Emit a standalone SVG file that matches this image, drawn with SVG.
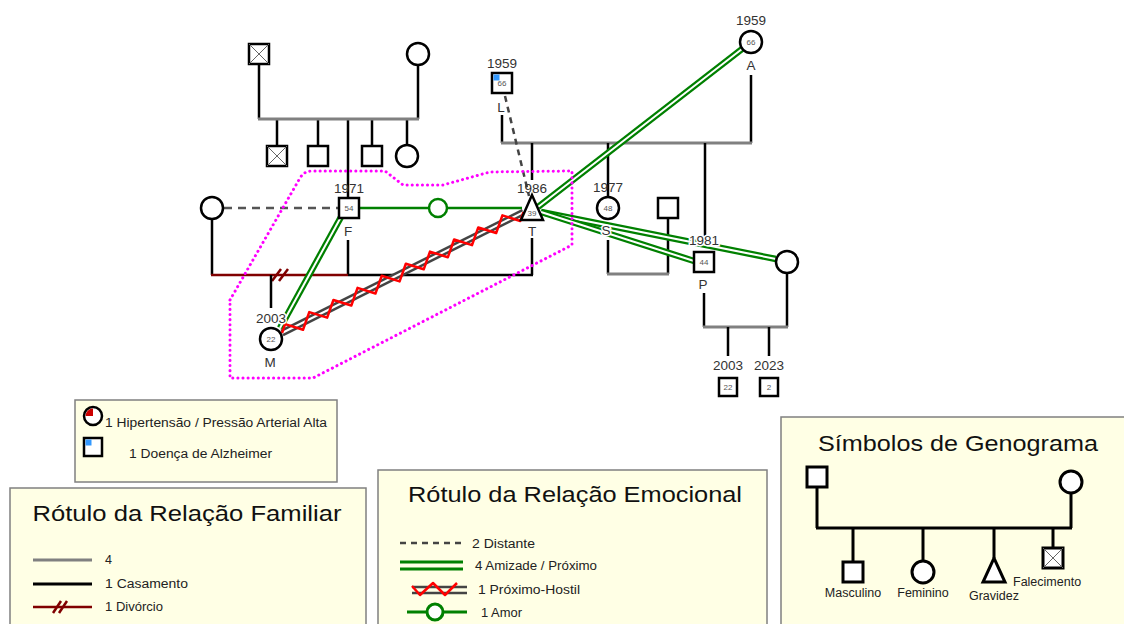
<svg xmlns="http://www.w3.org/2000/svg" width="1124" height="624" viewBox="0 0 1124 624">
<defs>
<style>
.n{fill:#fff;stroke:#000;stroke-width:2.5}
.fl{stroke:#000;stroke-width:2.5;fill:none}
.gl{stroke:#808080;stroke-width:3;fill:none}
.dv{stroke:#800000;stroke-width:2.5;fill:none}
.x{stroke:#666;stroke-width:1}
.t{font-family:"Liberation Sans",Arial,sans-serif;font-size:13.5px;fill:#333;text-anchor:middle}
.s{font-family:"Liberation Sans",Arial,sans-serif;font-size:8px;fill:#555;text-anchor:middle}
.lg{font-family:"Liberation Sans",Arial,sans-serif;font-size:12.5px;fill:#222}
.ttl{font-family:"Liberation Sans",Arial,sans-serif;font-size:22px;fill:#111;text-anchor:middle}
.box{fill:#FFFFE5;stroke:#808080;stroke-width:1.5}
.g2{stroke:#008000;stroke-width:6.5;fill:none}
.gap{stroke:#fff;stroke-width:2;fill:none}
.h2{stroke:#444;stroke-width:7;fill:none}
.zz{stroke:#ff0000;stroke-width:2.5;fill:none;stroke-linejoin:round}
.ds{stroke:#444;stroke-width:2.5;stroke-dasharray:6 5;fill:none}
.lv{stroke:#008000;stroke-width:2.5;fill:none}
.pk{stroke:#ff00ff;stroke-width:3;stroke-dasharray:0.1 5;stroke-linecap:round;fill:none}
.halo{stroke:#fff;stroke-width:3;paint-order:stroke}
</style>
</defs>
<rect width="1124" height="624" fill="#fff"/>

<!-- family connectors -->
<g id="family-lines">
  <line class="fl" x1="259" y1="64" x2="259" y2="119"/>
  <line class="fl" x1="418" y1="65" x2="418" y2="119"/>
  <line class="fl" x1="277" y1="119" x2="277" y2="146"/>
  <line class="fl" x1="318" y1="119" x2="318" y2="146"/>
  <line class="fl" x1="372" y1="119" x2="372" y2="146"/>
  <line class="fl" x1="407" y1="119" x2="407" y2="145"/>
  <line class="fl" x1="348" y1="119" x2="348" y2="198"/>
  <line class="gl" x1="258" y1="119" x2="419" y2="119"/>

  <line class="fl" x1="212" y1="219" x2="212" y2="275"/>
  <line class="fl" x1="348" y1="240" x2="348" y2="275"/>
  <line class="fl" x1="532" y1="238" x2="532" y2="275"/>
  <line class="dv" x1="211" y1="275" x2="348" y2="275"/>
  <line class="dv" x1="272" y1="281" x2="281" y2="269"/>
  <line class="dv" x1="279" y1="281" x2="288" y2="269"/>
  <line class="fl" x1="348" y1="275" x2="533" y2="275"/>
  <line class="fl" x1="271" y1="275" x2="271" y2="308"/>

  <line class="fl" x1="502" y1="115" x2="502" y2="143"/>
  <line class="fl" x1="751" y1="75" x2="751" y2="143"/>
  <line class="gl" x1="501" y1="143" x2="752" y2="143"/>
  <line class="fl" x1="532" y1="143" x2="532" y2="180"/>
  <line class="fl" x1="608" y1="143" x2="608" y2="197"/>
  <line class="fl" x1="705" y1="143" x2="705" y2="236"/>

  <line class="fl" x1="608" y1="240" x2="608" y2="274"/>
  <line class="fl" x1="668" y1="218" x2="668" y2="274"/>
  <line class="gl" x1="607" y1="274" x2="669" y2="274"/>

  <line class="fl" x1="704" y1="293" x2="704" y2="327"/>
  <line class="fl" x1="787" y1="273" x2="787" y2="327"/>
  <line class="gl" x1="703" y1="327" x2="788" y2="327"/>
  <line class="fl" x1="728" y1="327" x2="728" y2="356"/>
  <line class="fl" x1="769" y1="327" x2="769" y2="356"/>
</g>

<!-- emotional connectors -->
<g id="emotional-lines">
  <line class="ds" x1="224" y1="208" x2="338" y2="208" style="stroke:#555;stroke-dasharray:8 6"/>
  <line class="ds" x1="505" y1="96" x2="529" y2="196"/>
  <line class="lv" x1="360" y1="208" x2="522" y2="208"/>
  <circle cx="438" cy="208" r="9" fill="#fff" stroke="#008000" stroke-width="2.5"/>
  <line class="g2" x1="742" y1="49" x2="538" y2="207"/>
  <line class="gap" x1="742" y1="49" x2="538" y2="207"/>
  <line class="g2" x1="341" y1="217" x2="280" y2="328"/>
  <line class="gap" x1="341" y1="217" x2="280" y2="328"/>
  <line class="g2" x1="541" y1="212" x2="776" y2="259"/>
  <line class="gap" x1="541" y1="212" x2="776" y2="259"/>
  <line class="g2" x1="541" y1="212" x2="694" y2="261"/>
  <line class="gap" x1="541" y1="212" x2="694" y2="261"/>
  <g transform="translate(282,333) rotate(-26.6)">
    <line class="h2" x1="0" y1="0" x2="270" y2="0"/>
    <line class="gap" x1="0" y1="0" x2="270" y2="0"/>
    <polyline class="zz" points="0,0 6.75,-6.5 20.25,6.5 33.75,-6.5 47.25,6.5 60.75,-6.5 74.25,6.5 87.75,-6.5 101.25,6.5 114.75,-6.5 128.25,6.5 141.75,-6.5 155.25,6.5 168.75,-6.5 182.25,6.5 195.75,-6.5 209.25,6.5 222.75,-6.5 236.25,6.5 249.75,-6.5 263.25,6.5 270,0"/>
  </g>
</g>

<!-- household boundary -->
<path class="pk" d="M230,300 L300,178 Q304,171 312,171 L385,171 L403,185 L443,185 L490,172 L572,171 L572,245 L313,378 L230,378 Z"/>

<!-- nodes -->
<g id="gp-father"><rect class="n" x="249" y="44" width="20" height="20"/><line class="x" x1="249" y1="44" x2="269" y2="64"/><line class="x" x1="269" y1="44" x2="249" y2="64"/></g>
<g id="gp-mother"><circle class="n" cx="418" cy="54" r="11"/></g>
<g id="uncle1"><rect class="n" x="267" y="146" width="20" height="20"/><line class="x" x1="267" y1="146" x2="287" y2="166"/><line class="x" x1="287" y1="146" x2="267" y2="166"/></g>
<g id="uncle2"><rect class="n" x="308" y="146" width="20" height="20"/></g>
<g id="uncle3"><rect class="n" x="362" y="146" width="20" height="20"/></g>
<g id="aunt"><circle class="n" cx="407" cy="156" r="11"/></g>

<g id="ex-wife"><circle class="n" cx="212" cy="208" r="11"/></g>
<g id="F"><rect class="n" x="339" y="198" width="20" height="20"/><text class="s" x="349" y="211">54</text><text class="t" x="349" y="193">1971</text><text class="t" x="348" y="236">F</text></g>
<g id="T"><polygon class="n" points="532,195 521,220 543,220"/><text class="s" x="532" y="216">39</text><text class="t" x="532" y="193">1986</text><text class="t" x="532" y="236">T</text></g>
<g id="M"><circle class="n" cx="271" cy="339" r="11"/><text class="s" x="271" y="342">22</text><text class="t halo" x="271" y="323">2003</text><text class="t" x="270" y="367">M</text></g>

<g id="L"><rect class="n" x="492" y="73" width="20" height="20"/><rect x="493.5" y="74.5" width="6" height="6" fill="#3399ff"/><text class="s" x="502" y="86">66</text><text class="t" x="502" y="68">1959</text><text class="t" x="501" y="112">L</text></g>
<g id="A"><circle class="n" cx="751" cy="42" r="11"/><text class="s" x="751" y="45">66</text><text class="t" x="751" y="25">1959</text><text class="t" x="751" y="70">A</text></g>

<g id="S"><circle class="n" cx="608" cy="208" r="11"/><text class="s" x="608" y="211">48</text><text class="t" x="608" y="192">1977</text><text class="t halo" x="606" y="235">S</text></g>
<g id="S-partner"><rect class="n" x="658" y="198" width="20" height="20"/></g>
<g id="P"><rect class="n" x="694" y="252" width="20" height="20"/><text class="s" x="704" y="265">44</text><text class="t halo" x="704" y="245">1981</text><text class="t" x="703" y="289">P</text></g>
<g id="P-partner"><circle class="n" cx="787" cy="262" r="11"/></g>
<g id="child-2003"><rect class="n" x="719" y="378" width="18" height="18"/><text class="s" x="728" y="390">22</text><text class="t" x="728" y="370">2003</text></g>
<g id="child-2023"><rect class="n" x="760" y="378" width="18" height="18"/><text class="s" x="769" y="390">2</text><text class="t" x="769" y="370">2023</text></g>

<!-- legend: health -->
<g id="legend-health">
  <rect class="box" x="75" y="400" width="262" height="82"/>
  <circle class="n" cx="93" cy="416" r="9"/>
  <path d="M93,416 L93,408.5 A7.5,7.5 0 0 0 85.5,416 Z" fill="#cc0000"/>
  <text class="lg" x="105" y="427" textLength="222" lengthAdjust="spacingAndGlyphs">1 Hipertensão / Pressão Arterial Alta</text>
  <rect class="n" x="84" y="438" width="18" height="18"/>
  <rect x="85.5" y="439.5" width="6" height="6" fill="#3399ff"/>
  <text class="lg" x="129" y="458" textLength="143" lengthAdjust="spacingAndGlyphs">1 Doença de Alzheimer</text>
</g>

<!-- legend: family -->
<g id="legend-family">
  <rect class="box" x="10" y="488" width="356" height="145"/>
  <text class="ttl" x="187" y="521" textLength="309" lengthAdjust="spacingAndGlyphs">Rótulo da Relação Familiar</text>
  <line class="gl" x1="33" y1="560" x2="92" y2="560"/>
  <text class="lg" x="105" y="564">4</text>
  <line class="fl" x1="33" y1="584" x2="92" y2="584" style="stroke-width:3"/>
  <text class="lg" x="105" y="588" textLength="83" lengthAdjust="spacingAndGlyphs">1 Casamento</text>
  <line class="dv" x1="33" y1="607" x2="92" y2="607"/>
  <line class="dv" x1="53" y1="613" x2="61" y2="601"/>
  <line class="dv" x1="59" y1="613" x2="67" y2="601"/>
  <text class="lg" x="105" y="611" textLength="58" lengthAdjust="spacingAndGlyphs">1 Divórcio</text>
</g>

<!-- legend: emotional -->
<g id="legend-emotional">
  <rect class="box" x="378" y="470" width="389" height="163"/>
  <text class="ttl" x="575" y="502" textLength="334" lengthAdjust="spacingAndGlyphs">Rótulo da Relação Emocional</text>
  <line class="ds" x1="400" y1="543" x2="462" y2="543"/>
  <text class="lg" x="472" y="548" textLength="63" lengthAdjust="spacingAndGlyphs">2 Distante</text>
  <line x1="400" y1="562" x2="463" y2="562" stroke="#008000" stroke-width="3"/>
  <line x1="400" y1="569" x2="463" y2="569" stroke="#008000" stroke-width="3"/>
  <text class="lg" x="475" y="570" textLength="122" lengthAdjust="spacingAndGlyphs">4 Amizade / Próximo</text>
  <line x1="412" y1="587" x2="467" y2="587" stroke="#444" stroke-width="2.5"/>
  <line x1="412" y1="593" x2="467" y2="593" stroke="#444" stroke-width="2.5"/>
  <polyline class="zz" points="412,586 420,595 433,583 445,595 457,583"/>
  <text class="lg" x="478" y="594" textLength="102" lengthAdjust="spacingAndGlyphs">1 Próximo-Hostil</text>
  <line class="lv" x1="407" y1="612" x2="467" y2="612" style="stroke-width:3"/>
  <circle cx="435" cy="612" r="8" fill="#fff" stroke="#008000" stroke-width="3"/>
  <text class="lg" x="481" y="617" textLength="41" lengthAdjust="spacingAndGlyphs">1 Amor</text>
</g>

<!-- legend: symbols -->
<g id="legend-symbols">
  <rect class="box" x="781" y="417" width="360" height="216"/>
  <text class="ttl" x="958" y="451" textLength="280" lengthAdjust="spacingAndGlyphs">Símbolos de Genograma</text>
  <line class="fl" x1="817" y1="487" x2="817" y2="528" style="stroke-width:3"/>
  <line class="fl" x1="1071" y1="493" x2="1071" y2="528" style="stroke-width:3"/>
  <line class="fl" x1="816" y1="528" x2="1072" y2="528" style="stroke-width:3"/>
  <line class="fl" x1="853" y1="528" x2="853" y2="562" style="stroke-width:3"/>
  <line class="fl" x1="923" y1="528" x2="923" y2="561" style="stroke-width:3"/>
  <line class="fl" x1="994" y1="528" x2="994" y2="558" style="stroke-width:3"/>
  <line class="fl" x1="1053" y1="528" x2="1053" y2="548" style="stroke-width:3"/>
  <rect class="n" x="807" y="467" width="20" height="20" style="stroke-width:3"/>
  <circle class="n" cx="1071" cy="482" r="11" style="stroke-width:3"/>
  <rect class="n" x="843" y="562" width="20" height="20" style="stroke-width:3"/>
  <circle class="n" cx="923" cy="572" r="11" style="stroke-width:3"/>
  <polygon class="n" points="994,558 983,582 1005,582" style="stroke-width:3"/>
  <rect class="n" x="1043" y="548" width="20" height="20" style="stroke-width:3"/>
  <line class="x" x1="1043" y1="548" x2="1063" y2="568"/>
  <line class="x" x1="1063" y1="548" x2="1043" y2="568"/>
  <text class="lg" x="853" y="597" style="text-anchor:middle">Masculino</text>
  <text class="lg" x="923" y="597" style="text-anchor:middle">Feminino</text>
  <text class="lg" x="994" y="600" style="text-anchor:middle">Gravidez</text>
  <text class="lg" x="1013" y="586">Falecimento</text>
</g>
</svg>
